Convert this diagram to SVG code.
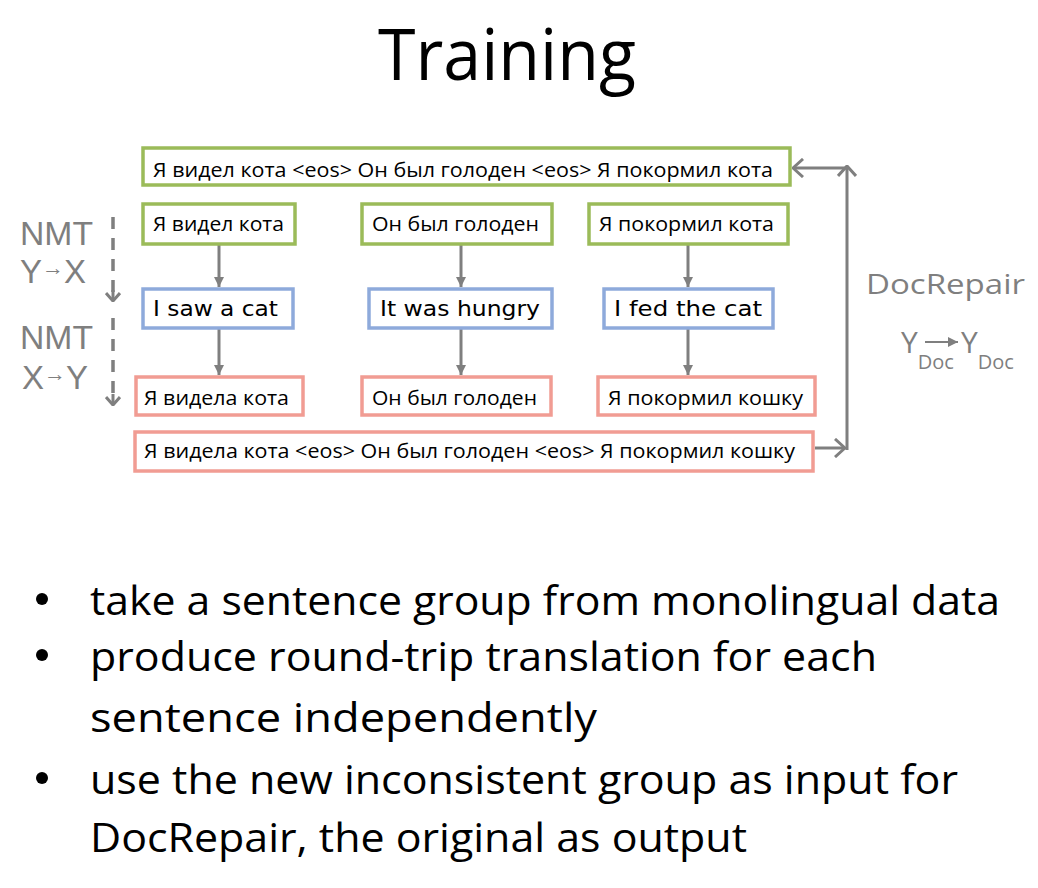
<svg xmlns="http://www.w3.org/2000/svg" width="1038" height="888" viewBox="0 0 1038 888">
<defs>
<style>
.t{font-family:"Open Sans","Noto Sans","Liberation Sans",sans-serif;fill:#000}
.g{font-family:"Open Sans","Noto Sans","Liberation Sans",sans-serif;fill:#7f7f7f}
.gl{font-family:"Liberation Sans",Arial,sans-serif;fill:#7f7f7f}
.bx{font-family:"Open Sans","Noto Sans","Liberation Sans",sans-serif;font-size:20px;fill:#000;text-anchor:middle}
.cm{font-family:"Comic Sans MS","DejaVu Sans",sans-serif;font-size:21px;fill:#000;text-anchor:middle}
.gr{fill:#fff;stroke:#9bbb59;stroke-width:3.5}
.bl{fill:#fff;stroke:#8eaadb;stroke-width:3.5}
.rd{fill:#fff;stroke:#f19c93;stroke-width:3.5}
.ar{stroke:#7f7f7f;stroke-width:3;fill:none}
.bul{font-family:"Open Sans","Noto Sans","Liberation Sans",sans-serif;font-size:40px;fill:#000}
</style>
<marker id="tri" viewBox="0 0 10 10" refX="10" refY="5" markerWidth="10" markerHeight="10" markerUnits="userSpaceOnUse" orient="auto">
<path d="M0,0 L10,5 L0,10 z" fill="#7f7f7f"/>
</marker>
<marker id="chev" viewBox="0 0 12 20" refX="11" refY="10" markerWidth="12" markerHeight="20" markerUnits="userSpaceOnUse" orient="auto">
<path d="M1,1 L11,10 L1,19" fill="none" stroke="#7f7f7f" stroke-width="3"/>
</marker>
<marker id="chevs" viewBox="0 0 10 16" refX="9" refY="8" markerWidth="10" markerHeight="16" markerUnits="userSpaceOnUse" orient="auto">
<path d="M1,1 L9,8 L1,15" fill="none" stroke="#7f7f7f" stroke-width="3"/>
</marker>
</defs>
<rect width="1038" height="888" fill="#fff"/>

<text class="t" x="378" y="80" font-size="71" textLength="258" lengthAdjust="spacingAndGlyphs">Training</text>

<g id="connectors">
<line class="ar" x1="219" y1="245" x2="219" y2="287" marker-end="url(#tri)"/>
<line class="ar" x1="461" y1="245" x2="461" y2="287" marker-end="url(#tri)"/>
<line class="ar" x1="688" y1="245" x2="688" y2="287" marker-end="url(#tri)"/>
<line class="ar" x1="219" y1="329" x2="219" y2="375" marker-end="url(#tri)"/>
<line class="ar" x1="461" y1="329" x2="461" y2="375" marker-end="url(#tri)"/>
<line class="ar" x1="688" y1="329" x2="688" y2="375" marker-end="url(#tri)"/>
<line class="ar" x1="815" y1="448" x2="845" y2="448" marker-end="url(#chev)"/>
<line class="ar" x1="847" y1="450" x2="847" y2="166" marker-end="url(#chev)"/>
<line class="ar" x1="847" y1="168" x2="793" y2="168" marker-end="url(#chev)"/>
<line x1="113" y1="217" x2="113" y2="300" stroke="#7f7f7f" stroke-width="3.5" stroke-dasharray="12 9"/>
<line class="ar" x1="113" y1="290" x2="113" y2="301" stroke-width="3.5" marker-end="url(#chevs)"/>
<line x1="113" y1="318" x2="113" y2="404" stroke="#7f7f7f" stroke-width="3.5" stroke-dasharray="12 9"/>
<line class="ar" x1="113" y1="394" x2="113" y2="405" stroke-width="3.5" marker-end="url(#chevs)"/>
</g>

<g id="src-doc"><rect class="gr" x="143" y="148" width="647" height="37"/><text class="bx" x="463" y="177" textLength="620" lengthAdjust="spacingAndGlyphs">Я видел кота &lt;eos&gt; Он был голоден &lt;eos&gt; Я покормил кота</text></g>

<g id="src1"><rect class="gr" x="143" y="204" width="152" height="40"/><text class="bx" x="218.5" y="231" textLength="131" lengthAdjust="spacingAndGlyphs">Я видел кота</text></g>
<g id="src2"><rect class="gr" x="362" y="204" width="190" height="40"/><text class="bx" x="455.5" y="231" textLength="167" lengthAdjust="spacingAndGlyphs">Он был голоден</text></g>
<g id="src3"><rect class="gr" x="589" y="204" width="199" height="40"/><text class="bx" x="686.5" y="231" textLength="175" lengthAdjust="spacingAndGlyphs">Я покормил кота</text></g>

<g id="en1"><rect class="bl" x="143" y="289" width="150" height="39"/><text class="cm" x="215.5" y="316" textLength="125" lengthAdjust="spacingAndGlyphs">I saw a cat</text></g>
<g id="en2"><rect class="bl" x="369" y="289" width="183" height="39"/><text class="cm" x="460" y="316" textLength="160" lengthAdjust="spacingAndGlyphs">It was hungry</text></g>
<g id="en3"><rect class="bl" x="604" y="289" width="169" height="39"/><text class="cm" x="688" y="316" textLength="148" lengthAdjust="spacingAndGlyphs">I fed the cat</text></g>

<g id="rt1"><rect class="rd" x="136" y="377" width="167" height="38"/><text class="bx" x="216.5" y="405" textLength="145" lengthAdjust="spacingAndGlyphs">Я видела кота</text></g>
<g id="rt2"><rect class="rd" x="362" y="377" width="189" height="38"/><text class="bx" x="454.5" y="405" textLength="165" lengthAdjust="spacingAndGlyphs">Он был голоден</text></g>
<g id="rt3"><rect class="rd" x="598" y="377" width="217" height="38"/><text class="bx" x="705.5" y="405" textLength="195" lengthAdjust="spacingAndGlyphs">Я покормил кошку</text></g>

<g id="rt-doc"><rect class="rd" x="135" y="432" width="678" height="39"/><text class="bx" x="469.5" y="458" textLength="651" lengthAdjust="spacingAndGlyphs">Я видела кота &lt;eos&gt; Он был голоден &lt;eos&gt; Я покормил кошку</text></g>

<g id="nmt1"><text class="gl" x="20" y="245" font-size="33" textLength="73" lengthAdjust="spacingAndGlyphs">NMT</text>
<text class="gl" x="20" y="283" font-size="33">Y<tspan font-size="22" dy="-8">→</tspan><tspan dy="8">X</tspan></text></g>
<g id="nmt2"><text class="gl" x="20" y="349" font-size="33" textLength="73" lengthAdjust="spacingAndGlyphs">NMT</text>
<text class="gl" x="22" y="389" font-size="33">X<tspan font-size="22" dy="-8">→</tspan><tspan dy="8">Y</tspan></text></g>

<g id="docrepair"><text class="g" x="866" y="294" font-size="28" textLength="159" lengthAdjust="spacingAndGlyphs">DocRepair</text>
<text class="g" x="901" y="353" font-size="30">Y<tspan font-size="20" dy="16">Doc</tspan></text>
<line x1="925" y1="342" x2="958" y2="342" stroke="#7f7f7f" stroke-width="2" marker-end="url(#tri)"/>
<text class="g" x="961" y="353" font-size="30">Y<tspan font-size="20" dy="16">Doc</tspan></text></g>

<g id="bullets">
<circle cx="42" cy="599" r="6"/>
<text class="bul" x="90" y="615" textLength="910" lengthAdjust="spacingAndGlyphs">take a sentence group from monolingual data</text>
<circle cx="42" cy="655" r="6"/>
<text class="bul" x="90" y="671" textLength="787" lengthAdjust="spacingAndGlyphs">produce round-trip translation for each</text>
<text class="bul" x="90" y="732" textLength="507" lengthAdjust="spacingAndGlyphs">sentence independently</text>
<circle cx="42" cy="778" r="6"/>
<text class="bul" x="90" y="794" textLength="868" lengthAdjust="spacingAndGlyphs">use the new inconsistent group as input for</text>
<text class="bul" x="90" y="852" textLength="657" lengthAdjust="spacingAndGlyphs">DocRepair, the original as output</text>
</g>
</svg>
